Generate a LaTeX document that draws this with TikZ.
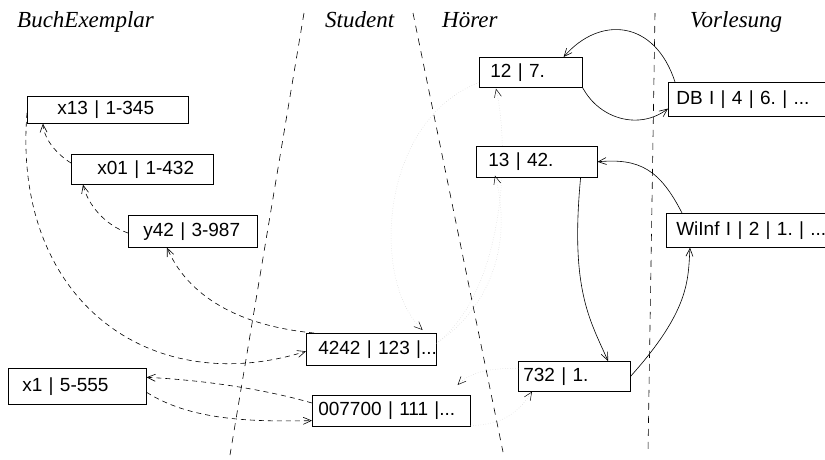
\documentclass[tikz,border=0pt]{standalone}
\usepackage{fontspec}
\setmainfont{Liberation Serif}
\newfontfamily\boxfont{Liberation Sans}
\usetikzlibrary{arrows.meta}
\pgfdeclarelayer{bg}
\pgfsetlayers{bg,main}
\frenchspacing

\begin{document}
\begin{tikzpicture}[x=1pt,y=-1pt,
  title/.style={anchor=base west, inner sep=0pt, font=\fontsize{23}{23}\selectfont\itshape},
  rec/.style={draw, line width=0.6pt, fill=white, anchor=north west, inner ysep=0pt,
    align=left, font=\fontsize{19}{19}\selectfont\boxfont},
  sep/.style={line width=0.6pt, dash pattern=on 7pt off 6pt},
  tip/.style={-{Straight Barb[length=8pt,width=7pt]}},
  link/.style={tip, line width=0.6pt, dash pattern=on 5pt off 4pt},
  ref/.style={tip, line width=0.6pt},
  faint/.style={line width=0.5pt, draw=gray!35, dotted,
    -{Straight Barb[length=8pt,width=7pt,color=black]}},
]
\useasboundingbox (0,0) rectangle (825,459);
\clip (0,0) rectangle (825,459);

% column headings
\node[title] (tBuch) at (17,27) {BuchExemplar};
\node[title] (tStud) at (325,27) {Student};
\node[title] (tHoer) at (442,27) {Hörer};
\node[title] (tVorl) at (690,27) {Vorlesung};

% column separators
\coordinate (s1a) at (304,13);  \coordinate (s1b) at (230,455);
\coordinate (s2a) at (413,13);  \coordinate (s2b) at (503,452);
\coordinate (s3a) at (655,13);  \coordinate (s3b) at (648,452);
\draw[sep] (s1a) -- (s1b);
\draw[sep] (s2a) -- (s2b);
\draw[sep] (s3a) -- (s3b);

% BuchExemplar
\node[rec, minimum height=27, text width=101pt, inner xsep=30pt] (b13) at (27,96) {\mbox{x13 | 1-345}};
\node[rec, minimum height=30, text width=90pt, inner xsep=26pt] (b01) at (71,154) {\mbox{x01 | 1-432}};
\node[rec, minimum height=32, text width=99pt, inner xsep=15pt] (b42) at (128,215) {\mbox{y42 | 3-987}};
\node[rec, minimum height=36, text width=110pt, inner xsep=14pt] (bx1) at (8,368) {\mbox{x1 | 5-555}};

% Student
\node[rec, minimum height=32, text width=106pt, inner xsep=12pt] (s4242) at (306,333) {\mbox{4242 | 123 |...}};
\node[rec, minimum height=31, text width=146pt, inner xsep=6pt] (s7700) at (312,395) {\mbox{007700 | 111 |...}};

% Hörer
\node[rec, minimum height=30, text width=81pt, inner xsep=11pt] (h12) at (479,57) {\mbox{12 | 7.}};
\node[rec, minimum height=31, text width=97pt, inner xsep=12pt] (h13) at (476,146) {\mbox{13 | 42.}};
\node[rec, minimum height=30, text width=102pt, inner xsep=5pt] (h732) at (518,361) {\mbox{732 | 1.}};

% Vorlesung
\node[rec, minimum height=34, text width=186pt, inner xsep=8pt] (vDB) at (668,82) {\mbox{DB I | 4 | 6. | ...}};
\node[rec, minimum height=34, text width=184pt, inner xsep=10pt] (vWI) at (666,213) {\mbox{WiInf I | 2 | 1. | ...}};

% copies of a book, and who borrowed them
\draw[link] ([yshift=-9pt]b01.north west) .. controls (58,155) and (44,140) .. ([xshift=16pt]b13.south west);
\draw[link] ([yshift=-18pt]b42.north west) .. controls (105,225) and (88,205) .. ([xshift=12pt]b01.south west);
\draw[link] ([yshift=-3pt]b13.west) .. controls (12,300) and (150,400) .. ([yshift=-2pt]s4242.west);
\draw[link] ([xshift=8pt]s4242.north west) .. controls (230,325) and (185,290) .. ([xshift=39pt]b42.south west);
\draw[link] ([yshift=-8pt]s7700.north west) .. controls (260,388) and (200,380) .. ([yshift=9pt]bx1.east);
\draw[link] ([yshift=-6pt]bx1.east) .. controls (190,420) and (250,422) .. ([yshift=6pt]s7700.south west);

% students attending lectures
\draw[faint] ([yshift=5pt]h12.south west) .. controls (380,120) and (370,280) .. ([xshift=-14pt,yshift=3pt]s4242.north east);
\begin{pgfonlayer}{bg}
\draw[faint] ([yshift=6pt]s4242.east) .. controls (505,290) and (510,150) .. ([xshift=17pt,yshift=-1pt]h12.south west);
\end{pgfonlayer}
\draw[faint] ([yshift=6pt]s4242.east) .. controls (500,300) and (510,230) .. ([xshift=19pt,yshift=2pt]h13.south west);
\draw[faint] ([yshift=8pt]h732.west) .. controls (490,368) and (470,372) .. ([xshift=-13pt,yshift=10pt]s7700.north east);
\draw[faint] ([yshift=1pt]s7700.south east) .. controls (505,425) and (520,410) .. ([xshift=14pt]h732.south west);

% lectures and their listeners
\draw[ref] ([xshift=7pt]vDB.north west) .. controls (655,20) and (600,15) .. ([xshift=-19pt]h12.north east);
\draw[ref] (h12.south east) .. controls (600,120) and (640,130) .. ([yshift=8pt]vDB.south west);
\draw[ref] ([xshift=16pt]vWI.north west) .. controls (660,170) and (640,158) .. (h13.east);
\draw[ref] ([xshift=-17pt]h13.south east) .. controls (570,290) and (590,320) .. ([xshift=90pt]h732.north west);
\draw[ref] (h732.east) .. controls (690,310) and (688,280) .. ([xshift=24pt]vWI.south west);
\end{tikzpicture}
\end{document}
